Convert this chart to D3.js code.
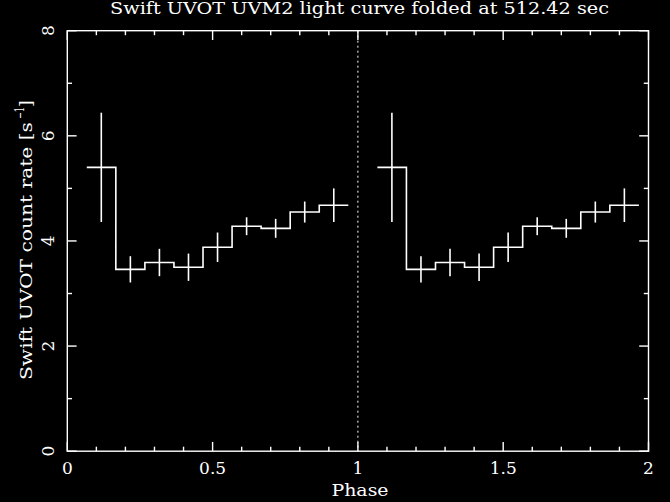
<!DOCTYPE html>
<html>
<head>
<meta charset="utf-8">
<script src="https://cdn.jsdelivr.net/npm/d3@7"></script>
<style>
html,body{margin:0;padding:0;background:#000;}
svg{display:block;}
text{font-family:"DejaVu Serif","Liberation Serif",serif;fill:#fff;}
</style>
</head>
<body>
<svg id="chart" width="670" height="502"></svg>
<script>
// ---- data ----
const binCenters = [0.117, 0.217, 0.317, 0.417, 0.517, 0.617, 0.717, 0.817, 0.917];
const rates      = [5.40, 3.46, 3.59, 3.50, 3.88, 4.28, 4.24, 4.55, 4.68];
const rateErrors = [1.04, 0.25, 0.26, 0.26, 0.28, 0.17, 0.18, 0.20, 0.32];
const binHalfWidth = 0.05;
const cycles = [0, 1];               // light curve plotted over two phase cycles
const xTicks = [0, 0.5, 1, 1.5, 2];
const xTickLabels = ["0", "0.5", "1", "1.5", "2"];
const yTicks = [0, 2, 4, 6, 8];
const yTickLabels = ["0", "2", "4", "6", "8"];
const titleText = "Swift UVOT UVM2 light curve folded at 512.42 sec";
const xLabel = "Phase";

// ---- layout ----
const L = 67.3, R = 648.5, T = 30.7, B = 451.2;
const svg = d3.select("#chart");
svg.append("rect").attr("width", 670).attr("height", 502).attr("fill", "#000");

const x = d3.scaleLinear().domain([0, 2]).range([L, R]);
const y = d3.scaleLinear().domain([0, 8]).range([B, T]);

const sw = 1.4;
const g = svg.append("g").attr("stroke", "#fff").attr("fill", "none").attr("stroke-width", sw);

// minor/major ticks on all four sides
const xMinor = d3.range(0, 21).map(i => i / 10);
const yMinor = d3.range(0, 9);
xMinor.forEach(v => {
  const major = Math.abs(v * 2 - Math.round(v * 2)) < 1e-9;
  const len = major ? 9.3 : 4.5;
  g.append("line").attr("x1", x(v)).attr("x2", x(v)).attr("y1", B).attr("y2", B - len);
  g.append("line").attr("x1", x(v)).attr("x2", x(v)).attr("y1", T).attr("y2", T + len);
});
yMinor.forEach(v => {
  const major = v % 2 === 0;
  const len = major ? 9.3 : 4.7;
  g.append("line").attr("x1", L).attr("x2", L + len).attr("y1", y(v)).attr("y2", y(v));
  g.append("line").attr("x1", R).attr("x2", R - len).attr("y1", y(v)).attr("y2", y(v));
});

// frame
g.append("rect").attr("x", L).attr("y", T).attr("width", R - L).attr("height", B - T);

// dotted line at phase 1
g.append("line").attr("x1", x(1)).attr("x2", x(1)).attr("y1", T).attr("y2", B)
  .attr("stroke-width", 1).attr("stroke-dasharray", "2,3");

// histogram steps and error bars
const stepLine = d3.line().x(d => x(d[0])).y(d => y(d[1])).curve(d3.curveStepAfter);
cycles.forEach(c => {
  const pts = binCenters.map((p, i) => [p + c - binHalfWidth, rates[i]]);
  pts.push([binCenters[binCenters.length - 1] + c + binHalfWidth, rates[rates.length - 1]]);
  g.append("path").attr("d", stepLine(pts)).attr("stroke-width", 1.6);
  binCenters.forEach((p, i) => {
    g.append("line")
      .attr("x1", x(p + c)).attr("x2", x(p + c))
      .attr("y1", y(rates[i] - rateErrors[i])).attr("y2", y(rates[i] + rateErrors[i]))
      .attr("stroke-width", 1.6);
  });
});

// x tick labels
xTicks.forEach((v, i) => {
  svg.append("text").attr("x", x(v)).attr("y", 474).attr("text-anchor", "middle")
    .attr("font-size", 17).text(xTickLabels[i]);
});
// y tick labels (rotated)
yTicks.forEach((v, i) => {
  svg.append("text").attr("transform", `translate(54,${y(v)}) rotate(-90)`)
    .attr("text-anchor", "middle").attr("font-size", 17).text(yTickLabels[i]);
});

// title
svg.append("text").attr("x", 359.5).attr("y", 13.5).attr("text-anchor", "middle")
  .attr("font-size", 16.5).attr("textLength", 499).attr("lengthAdjust", "spacingAndGlyphs")
  .text(titleText);

// x label
svg.append("text").attr("x", 360).attr("y", 496).attr("text-anchor", "middle")
  .attr("font-size", 17).attr("textLength", 57).attr("lengthAdjust", "spacingAndGlyphs")
  .text(xLabel);

// y label (rotated), in pieces so the overall length matches
const ylg = svg.append("g").attr("transform", "translate(32,380) rotate(-90)");
ylg.append("text").attr("x", 0).attr("y", 0).attr("font-size", 17)
  .attr("textLength", 258).attr("lengthAdjust", "spacingAndGlyphs")
  .text("Swift UVOT count rate [s");
ylg.append("text").attr("x", 261).attr("y", -8).attr("font-size", 12)
  .attr("textLength", 12).attr("lengthAdjust", "spacingAndGlyphs")
  .text("\u22121");
ylg.append("text").attr("x", 273).attr("y", 0).attr("font-size", 17).text("]");
</script>
</body>
</html>
